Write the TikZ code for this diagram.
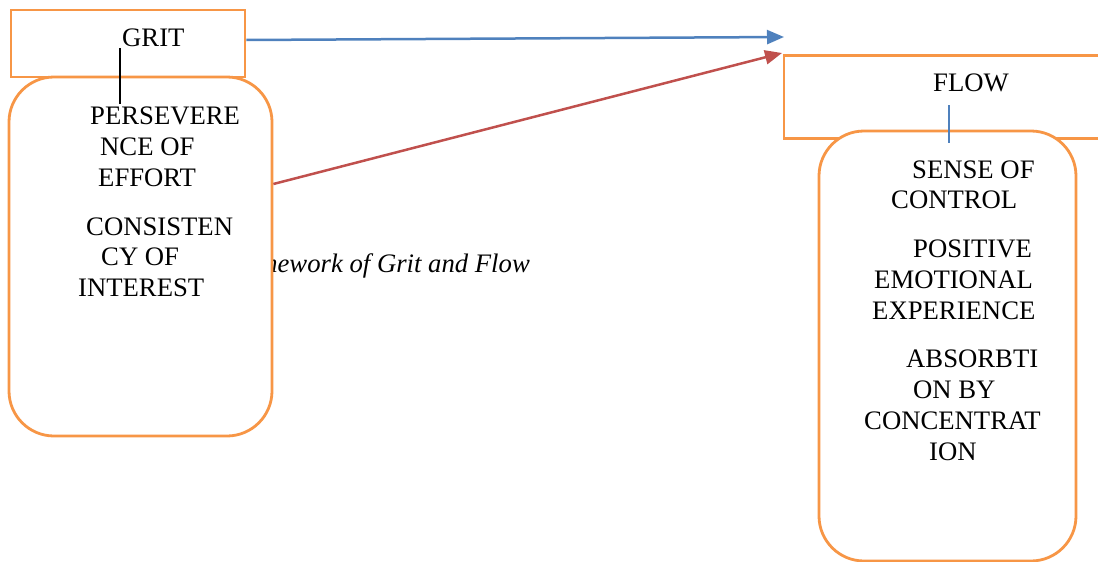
\documentclass[tikz,border=0pt]{standalone}
\usepackage{fontspec}
\setmainfont{Liberation Serif}
\usetikzlibrary{arrows.meta}
\definecolor{boxorange}{HTML}{F79646}
\definecolor{arrowblue}{HTML}{4F81BD}
\definecolor{arrowred}{HTML}{C0504D}
\begin{document}
\begin{tikzpicture}[x=1pt,y=-1pt,
  txt/.style={anchor=base west,inner sep=0pt,font=\fontsize{26.7}{30}\selectfont},
  ital/.style={anchor=base east,inner sep=0pt,font=\fontsize{26.7}{30}\selectfont\itshape},
  sqbox/.style={draw=boxorange,line width=2.8pt,fill=white,inner sep=0pt},
  rbox/.style={draw=boxorange,line width=2.8pt,fill=white,inner sep=0pt,rounded corners=45pt},
  conn/.style={line width=2.5pt,-{Triangle[length=17pt,width=14pt]}}]
\useasboundingbox (0,0) rectangle (1098,562);
% caption text partly hidden by the left box
\node[ital] (cap) at (530,272) {Framework of Grit and Flow};
% left side
\node[sqbox,minimum width=234pt,minimum height=67pt] (gritbox) at (128,43.5) {};
\node[rbox,minimum width=263pt,minimum height=359pt] (leftbox) at (140.5,256.5) {};
\node[txt] (grit) at (122,46) {GRIT};
\node[txt] (p1) at (90,124) {PERSEVERE};
\node[txt] (p2) at (100,155) {NCE OF};
\node[txt] (p3) at (98,186) {EFFORT};
\node[txt] (c1) at (86,235) {CONSISTEN};
\node[txt] (c2) at (101,265) {CY OF};
\node[txt] (c3) at (78,296) {INTEREST};
\coordinate (gl1) at (120,48);
\coordinate (gl2) at (120,104);
\draw[black,line width=1.3pt] (gl1) -- (gl2);
% right side
\node[sqbox,minimum width=330pt,minimum height=83pt] (flowbox) at (949,97) {};
\node[rbox,minimum width=257pt,minimum height=430pt] (rightbox) at (947.5,346) {};
\node[txt] (flow) at (933,91) {FLOW};
\node[txt] (s1) at (912,178) {SENSE OF};
\node[txt] (s2) at (891,208) {CONTROL};
\node[txt] (e1) at (913,257) {POSITIVE};
\node[txt] (e2) at (874,288) {EMOTIONAL};
\node[txt] (e3) at (872,319) {EXPERIENCE};
\node[txt] (a1) at (906,367) {ABSORBTI};
\node[txt] (a2) at (913,398) {ON BY};
\node[txt] (a3) at (864,429) {CONCENTRAT};
\node[txt] (a4) at (929,460) {ION};
\coordinate (fl1) at (949,105);
\coordinate (fl2) at (949,143);
\draw[arrowblue,line width=1.3pt] (fl1) -- (fl2);
% arrows
\coordinate (bluetip) at (784,37);
\coordinate (redtip) at (782,53);
\draw[conn,arrowblue] (gritbox.east |- 0,40) -- (bluetip);
\draw[conn,arrowred] (leftbox.east |- 0,184) -- (redtip);
\end{tikzpicture}
\end{document}
